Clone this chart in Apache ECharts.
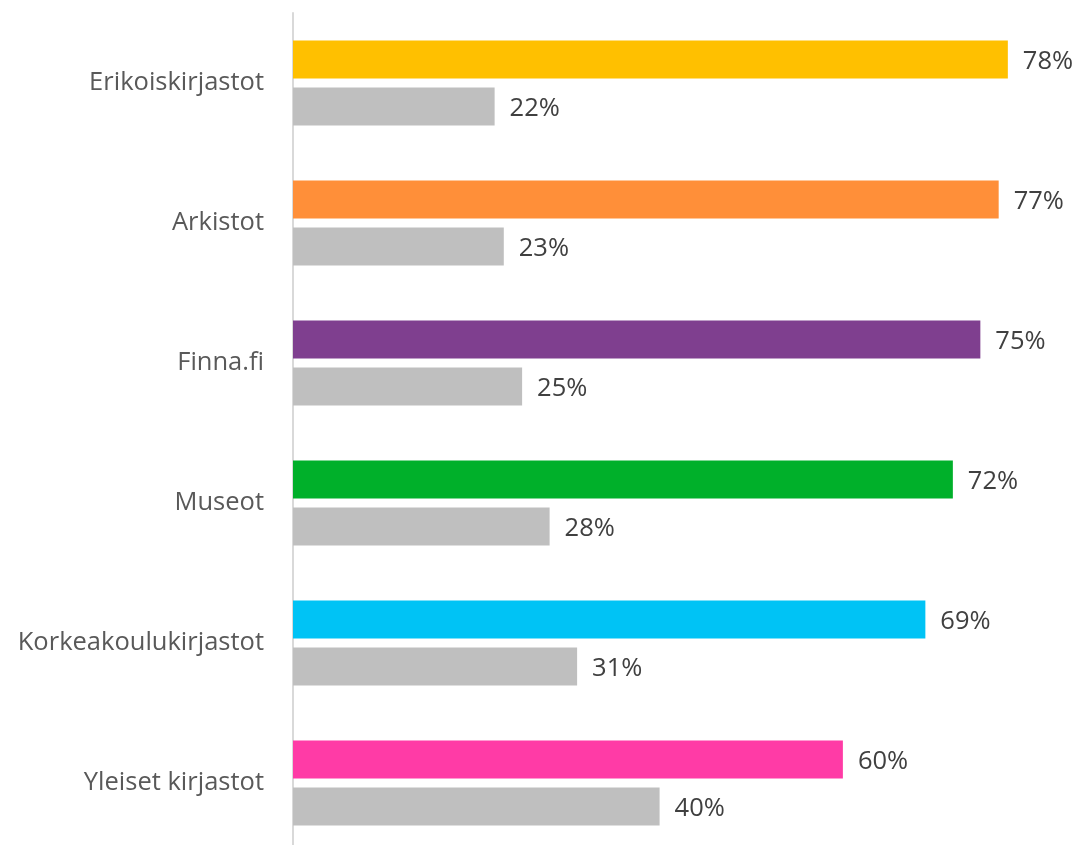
<!DOCTYPE html>
<html>
<head>
<meta charset="utf-8">
<script src="https://cdn.jsdelivr.net/npm/echarts@6/dist/echarts.min.js"></script>
<style>
html,body{margin:0;padding:0;background:#fff;overflow:hidden;}
#main{width:1080px;height:853px;}
</style>
</head>
<body>
<div id="main"></div>
<script>
// kategoriat ylhäältä alas
var categories = ['Erikoiskirjastot', 'Arkistot', 'Finna.fi', 'Museot', 'Korkeakoulukirjastot', 'Yleiset kirjastot'];
var valuesMain = [78, 77, 75, 72, 69, 60];
var valuesRest = [22, 23, 25, 28, 31, 40];
var barColors = ['#FFC000', '#FF8F39', '#7F3F8F', '#00B02A', '#00C3F5', '#FF3BA6'];

var chart = echarts.init(document.getElementById('main'));

var labelStyle = {
    show: true,
    position: 'right',
    distance: 15,
    offset: [0, 2],
    formatter: '{c}%',
    color: '#404040',
    fontSize: 25.5,
    fontFamily: 'Open Sans'
};

var option = {
    animation: false,
    grid: {left: 293, width: 779, top: 13, bottom: 0, containLabel: false},
    xAxis: {
        type: 'value',
        min: 0,
        max: 85,
        show: false
    },
    yAxis: {
        type: 'category',
        inverse: true,
        data: categories,
        axisLine: {show: true, lineStyle: {color: '#D9D9D9', width: 2}},
        axisTick: {show: false},
        axisLabel: {
            margin: 29,
            padding: [5, 0, 0, 0],
            color: '#595959',
            fontSize: 25.5,
            fontFamily: 'Open Sans'
        }
    },
    series: [
        {
            type: 'bar',
            barWidth: 38,
            barGap: '24%',
            data: valuesMain.map(function(v, i){
                return {value: v, itemStyle: {color: barColors[i]}};
            }),
            label: labelStyle
        },
        {
            type: 'bar',
            barWidth: 38,
            data: valuesRest,
            itemStyle: {color: '#BFBFBF'},
            label: labelStyle
        }
    ]
};
chart.setOption(option);
</script>
</body>
</html>
